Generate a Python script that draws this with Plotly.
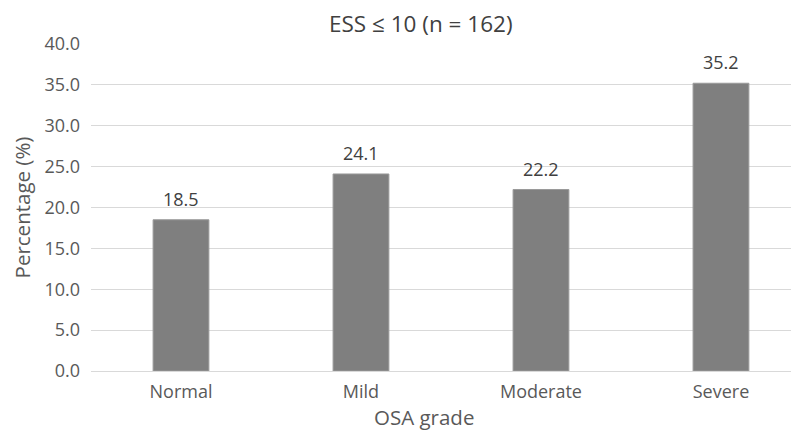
import plotly.graph_objects as go

categories = ["Normal", "Mild", "Moderate", "Severe"]
values = [18.5, 24.1, 22.2, 35.2]
y_ticks = [0, 5, 10, 15, 20, 25, 30, 35, 40]
y_tick_labels = [f"{v:.1f}" for v in y_ticks]
title_text = "ESS ≤ 10 (n = 162)"

font_family = "'Open Sans', sans-serif"
text_color = "#595959"

fig = go.Figure()
fig.add_trace(go.Bar(
    x=list(range(len(categories))), y=values,
    width=0.31,
    marker=dict(color="#7f7f7f", line=dict(color="#9a9a9a", width=1)),
    showlegend=False,
))

for i, v in enumerate(values):
    fig.add_annotation(x=i, y=v, text=f"{v:.1f}", showarrow=False,
                       yanchor="bottom", yshift=7,
                       font=dict(size=18, color="#404040", family=font_family))

# chart title as annotation
fig.add_annotation(text=title_text, xref="paper", yref="paper", x=0.461, y=1.064,
                   xanchor="center", yanchor="middle", showarrow=False,
                   font=dict(size=22.5, color="#404040", family=font_family))

# x-axis title placed as annotation (centred like the reference)
fig.add_annotation(text="OSA grade", xref="paper", yref="paper", x=0.465, y=-0.14,
                   xanchor="center", yanchor="middle", showarrow=False,
                   font=dict(size=20.5, color=text_color, family=font_family))

fig.update_layout(
    width=799, height=431,
    margin=dict(l=83, r=0, t=36, b=68),
    plot_bgcolor="white", paper_bgcolor="white",
    xaxis=dict(
        tickmode="array", tickvals=list(range(len(categories))), ticktext=categories,
        range=[-0.5, 3.478], showgrid=False, zeroline=False,
        showline=True, linecolor="#d9d9d9", linewidth=1,
        ticks="", ticklabelstandoff=4,
        tickfont=dict(size=18, color=text_color, family=font_family),
    ),
    yaxis=dict(
        range=[0, 40], tickmode="array", tickvals=y_ticks, ticktext=y_tick_labels,
        showgrid=True, gridcolor="#d9d9d9", gridwidth=1, zeroline=False,
        ticks="", ticklabelstandoff=10,
        tickfont=dict(size=18, color=text_color, family=font_family),
        title=dict(text="Percentage (%)", font=dict(size=20.5, color=text_color, family=font_family), standoff=12),
    ),
)

fig.write_html("out.html")
